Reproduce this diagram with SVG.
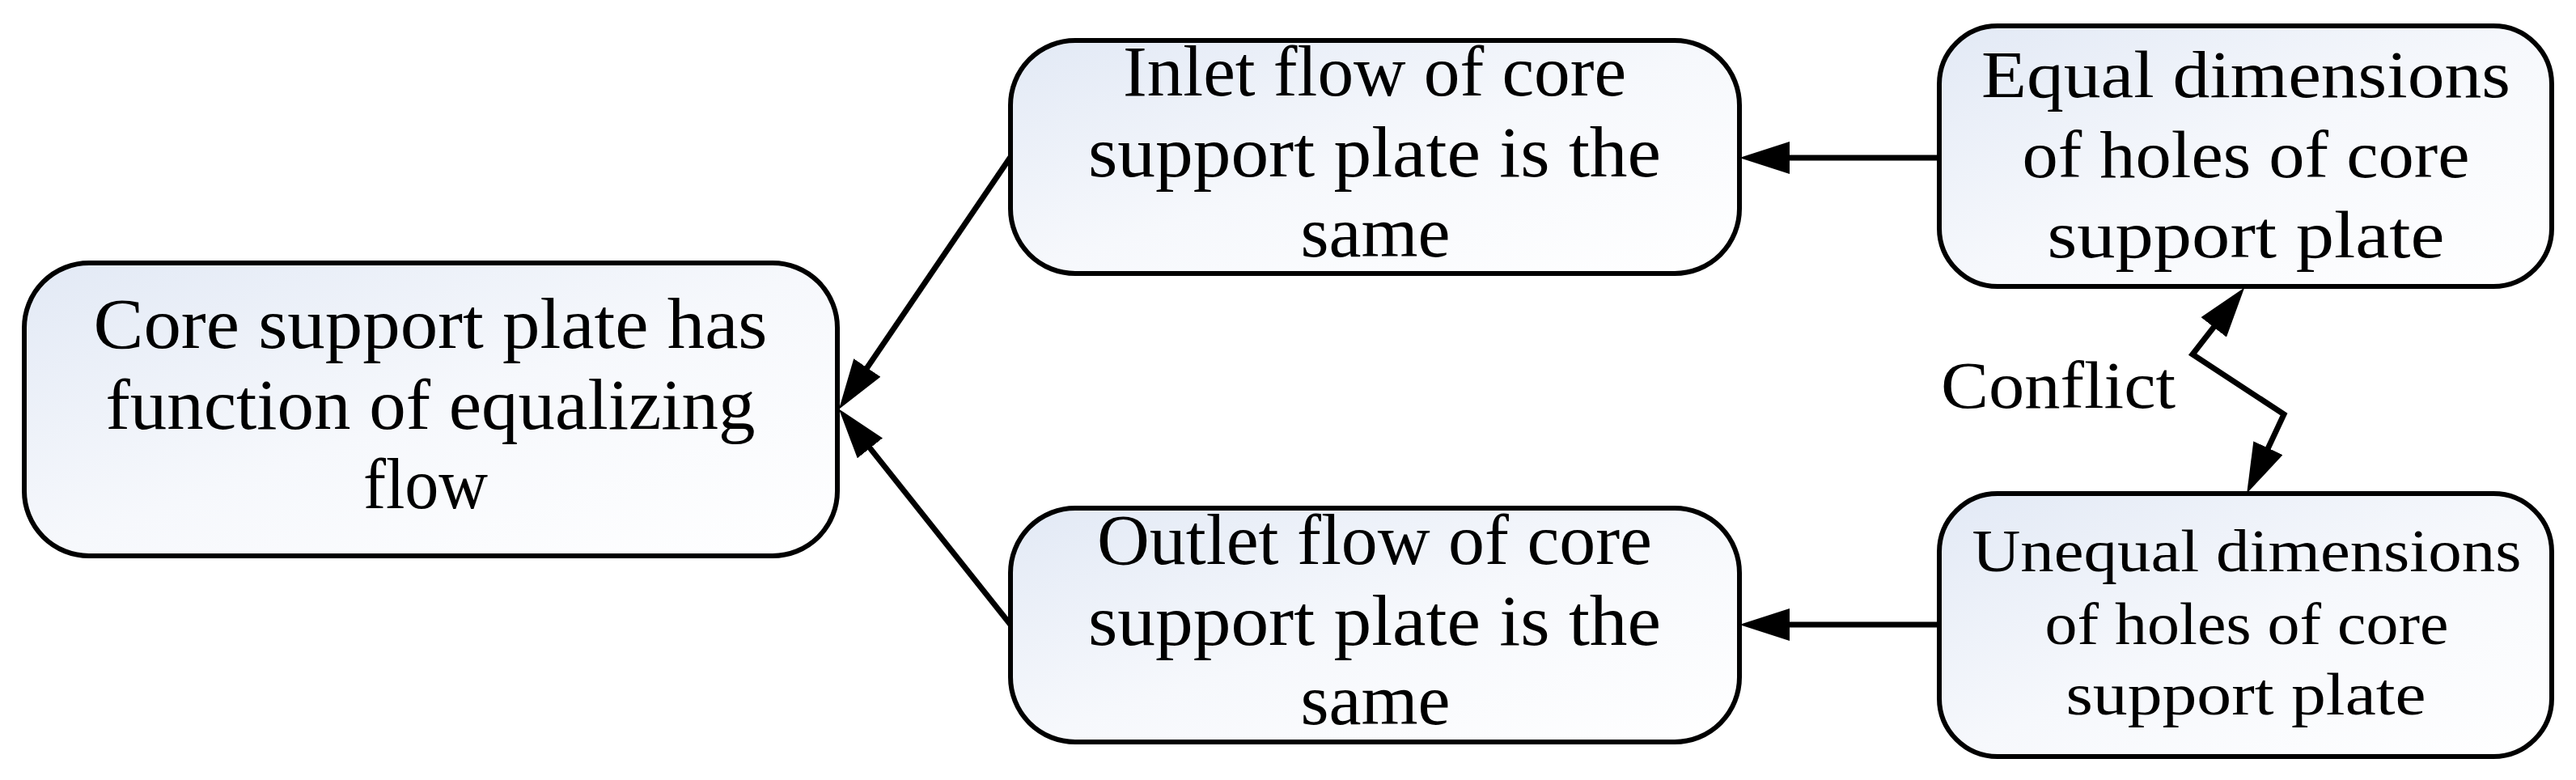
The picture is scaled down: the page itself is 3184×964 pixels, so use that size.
<svg xmlns="http://www.w3.org/2000/svg" width="3184" height="964" viewBox="0 0 3184 964">
  <defs>
    <linearGradient id="fill" x1="0" y1="0" x2="1" y2="1">
      <stop offset="0" stop-color="#e2e9f5"/>
      <stop offset="0.5" stop-color="#f6f8fc"/>
      <stop offset="1" stop-color="#ffffff"/>
    </linearGradient>
    <marker id="ah" markerUnits="userSpaceOnUse" markerWidth="62" markerHeight="40" refX="40" refY="20" orient="auto-start-reverse" viewBox="0 0 62 40">
      <path d="M0,0 L62,20 L0,40 Z" fill="#000"/>
    </marker>
  </defs>
  <style>
    .box { fill: url(#fill); stroke: #000; stroke-width: 6; }
    .t { font-family: "Liberation Serif", "Times New Roman", serif; font-size: 82px; fill: #000; text-anchor: middle; }
    .m { font-size: 88px; }
    .s { font-size: 74px; }
    .c { fill: none; stroke: #000; stroke-width: 7; stroke-linejoin: miter; }
  </style>
  <rect width="3184" height="964" fill="#fff"/>

  <g id="connectors">
    <path class="c" d="M1249,194 L1049.3,487.5" marker-end="url(#ah)"/>
    <path class="c" d="M1249,772 L1050.5,522.6" marker-end="url(#ah)"/>
    <path class="c" d="M2397,195 L2172,195" marker-end="url(#ah)"/>
    <path class="c" d="M2397,772 L2172,772" marker-end="url(#ah)"/>
    <path class="c" d="M2760.7,372.8 L2710,438 L2823,512 L2786.5,589.9" marker-start="url(#ah)" marker-end="url(#ah)"/>
    <text class="t" x="2544" y="504" textLength="290" lengthAdjust="spacingAndGlyphs">Conflict</text>
  </g>

  <g id="n_core">
    <rect class="box" x="30" y="325" width="1005" height="362" rx="80" ry="80"/>
    <text class="t m" x="532" y="430" textLength="833" lengthAdjust="spacingAndGlyphs">Core support plate has</text>
    <text class="t m" x="532" y="530" textLength="803" lengthAdjust="spacingAndGlyphs">function of equalizing</text>
    <text class="t m" x="526" y="628" textLength="154" lengthAdjust="spacingAndGlyphs">flow</text>
  </g>

  <g id="n_inlet">
    <rect class="box" x="1249" y="50" width="901" height="288" rx="80" ry="80"/>
    <text class="t m" x="1699" y="118" textLength="622" lengthAdjust="spacingAndGlyphs">Inlet flow of core</text>
    <text class="t m" x="1699" y="218" textLength="708" lengthAdjust="spacingAndGlyphs">support plate is the</text>
    <text class="t m" x="1700" y="317" textLength="185" lengthAdjust="spacingAndGlyphs">same</text>
  </g>

  <g id="n_outlet">
    <rect class="box" x="1249" y="628" width="901" height="289" rx="80" ry="80"/>
    <text class="t m" x="1699" y="697" textLength="686" lengthAdjust="spacingAndGlyphs">Outlet flow of core</text>
    <text class="t m" x="1699" y="797" textLength="708" lengthAdjust="spacingAndGlyphs">support plate is the</text>
    <text class="t m" x="1700" y="895" textLength="185" lengthAdjust="spacingAndGlyphs">same</text>
  </g>

  <g id="n_equal">
    <rect class="box" x="2397" y="32" width="757" height="322" rx="72" ry="72"/>
    <text class="t" x="2776" y="120" textLength="654" lengthAdjust="spacingAndGlyphs">Equal dimensions</text>
    <text class="t" x="2776" y="219" textLength="553" lengthAdjust="spacingAndGlyphs">of holes of core</text>
    <text class="t" x="2776" y="318" textLength="491" lengthAdjust="spacingAndGlyphs">support plate</text>
  </g>

  <g id="n_unequal">
    <rect class="box" x="2397" y="610" width="757" height="325" rx="72" ry="72"/>
    <text class="t s" x="2777" y="706" textLength="679" lengthAdjust="spacingAndGlyphs">Unequal dimensions</text>
    <text class="t s" x="2777" y="796" textLength="499" lengthAdjust="spacingAndGlyphs">of holes of core</text>
    <text class="t s" x="2776" y="883" textLength="445" lengthAdjust="spacingAndGlyphs">support plate</text>
  </g>
</svg>
